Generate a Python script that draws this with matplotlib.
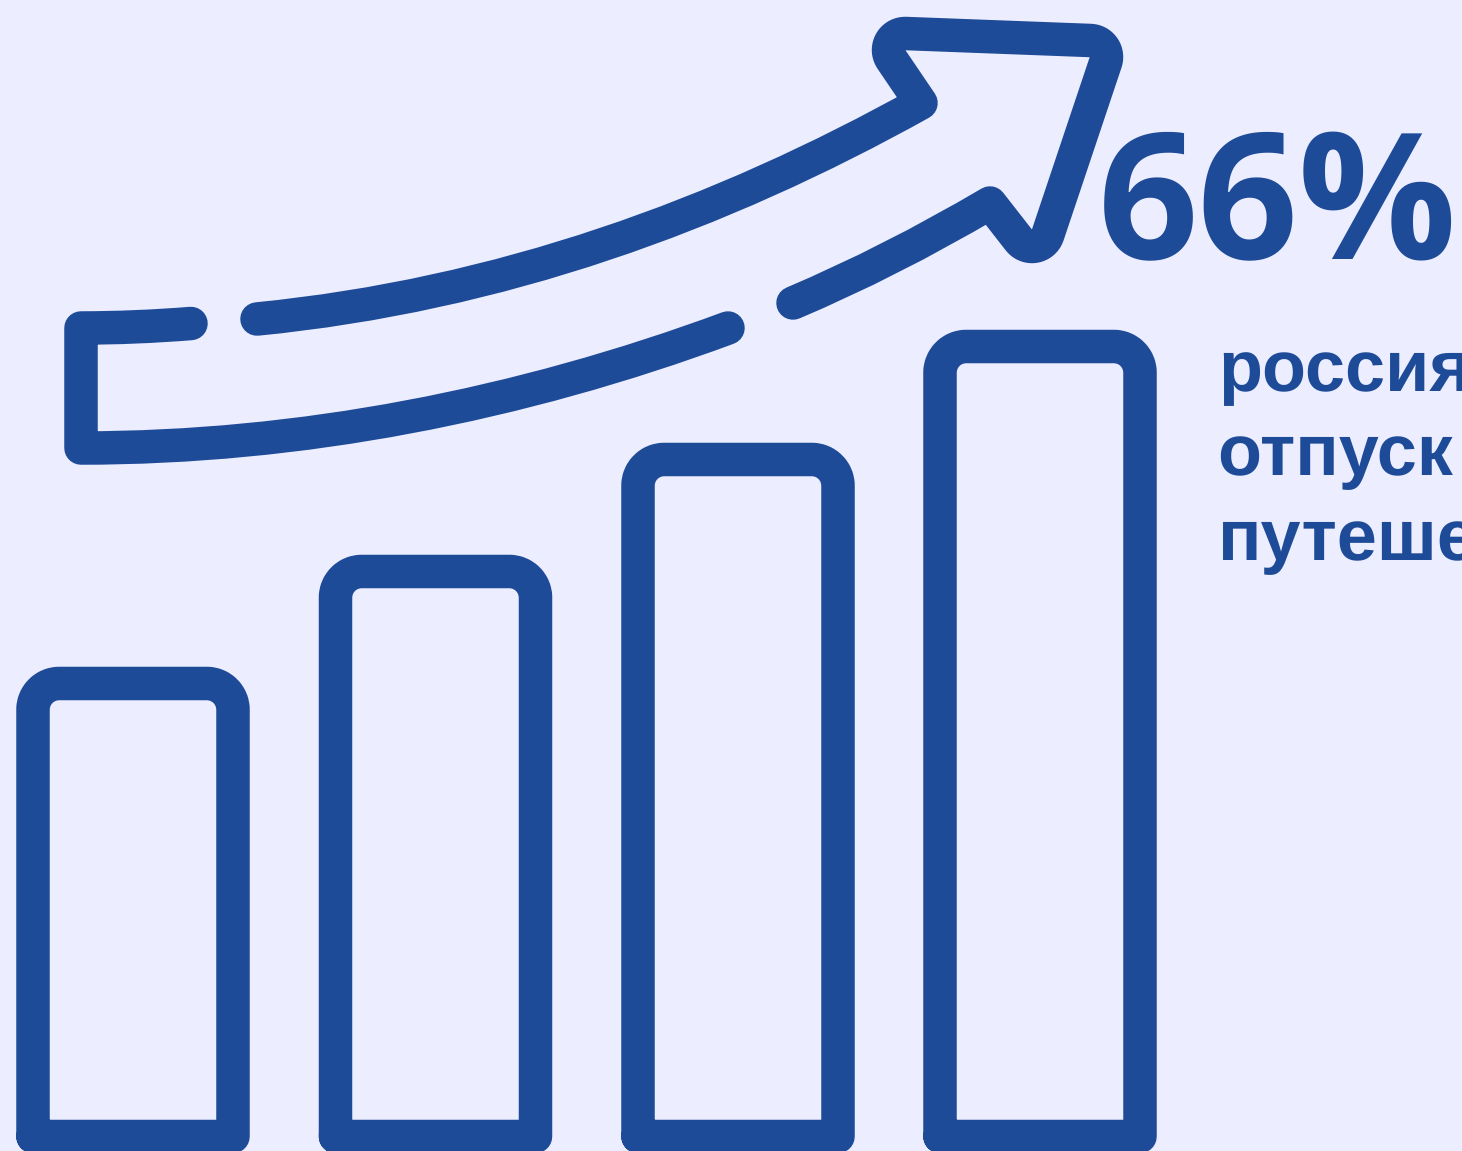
import numpy as np
import matplotlib
matplotlib.use('Agg')
import matplotlib.pyplot as plt
from matplotlib.path import Path
from matplotlib.patches import PathPatch

# values of the four bars (height above the baseline) and the texts
bar_positions = [133, 435.5, 738, 1040]
bar_heights = [453, 565, 677, 790]
percent_label = '66%'
text_lines = ['россияне', 'отпуск в', 'путешествие']

BG = '#ECEDFF'
BLUE = '#1E4B98'
BASELINE = 1136.5
HALF_W = 100
LW = 33.5 * 0.72  # px -> pt at dpi 100
R = 26
K = 0.55 * R

plt.rcParams['text.hinting'] = 'no_hinting'
plt.rcParams['text.hinting_factor'] = 1

fig = plt.figure(figsize=(14.62, 11.51), dpi=100, facecolor=BG)
ax = fig.add_axes([0, 0, 1, 1])
ax.set_xlim(0, 1462)
ax.set_ylim(1151, 0)
ax.axis('off')


def stroke(verts, codes):
    ax.add_patch(PathPatch(Path(verts, codes), fill=False, edgecolor=BLUE, lw=LW,
                           capstyle='round', joinstyle='round'))


def arc(cx, cy, a0, a1, r=16.5, n=14):
    a = np.radians(np.linspace(a0, a1, n))
    return [(cx + r * np.cos(t), cy + r * np.sin(t)) for t in a]


M, L, C3, C4 = Path.MOVETO, Path.LINETO, Path.CURVE3, Path.CURVE4

# sloupce
for x, h in zip(bar_positions, bar_heights):
    left, right, top = x - HALF_W, x + HALF_W, BASELINE - h
    stroke([(left, BASELINE), (left, top + R),
            (left, top + R - K), (left + R - K, top), (left + R, top),
            (right - R, top),
            (right - R + K, top), (right, top + R - K), (right, top + R),
            (right, BASELINE), (left, BASELINE)],
           [M, L, C4, C4, C4, L, C4, C4, C4, L, L])

# sipka - dolni cast vlevo
stroke([(191, 323.5), (135, 328), (81, 328), (81, 448), (300, 448), (520, 405), (728, 328)],
       [M, C3, C3, L, C4, C4, C4])

# sipka - horni oblouk a hlavice
head = arc(905, 50, 146.5, 272) + arc(1090, 57, 272, 378.5) + arc(1032, 230, 18.5, 143)
verts = [(257, 319), (500, 295), (720, 215), (921, 103)] + head
verts += [(990, 203), (890, 262), (793, 303)]
codes = [M, C4, C4, C4] + [L] * len(head) + [L, C3, C3]
stroke(verts, codes)

ax.text(1098, 259, percent_label, fontsize=127, fontweight='bold', family='Open Sans',
        color=BLUE, ha='left', va='baseline')
for i, line in enumerate(text_lines):
    ax.text(1218, 391 + 84.3 * i, line, fontsize=51.5, fontweight='bold',
            family='Liberation Sans', color=BLUE, ha='left', va='baseline')

fig.savefig('out.png', dpi=100, facecolor=BG)
